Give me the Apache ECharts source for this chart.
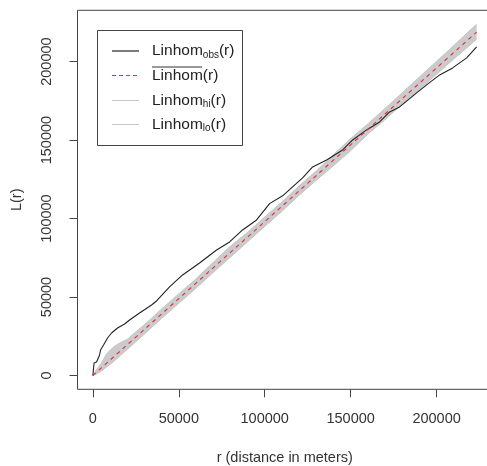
<!DOCTYPE html>
<html>
<head>
<meta charset="utf-8">
<script src="https://cdn.jsdelivr.net/npm/echarts@6/dist/echarts.min.js"></script>
<style>
html,body{margin:0;padding:0;background:#fff;}
#chart{width:487px;height:466px;}
</style>
</head>
<body>
<div id="chart"></div>
<script>
// ---- data ----
var xTicks = [0, 50000, 100000, 150000, 200000];
var yTicks = [0, 50000, 100000, 150000, 200000];

// observed Linhom(r)
var obsR = [0, 700, 2150, 3900, 4480, 6230, 8550, 10880, 14370, 18450, 21350, 27170, 34160, 37060, 44630, 52200, 62090, 71990, 79550, 87120, 95270, 102830, 110400, 122040, 127860, 136010, 145320, 151140, 159290, 166850, 172670, 178490, 188380, 194200, 201770, 209330, 217480, 223300];
var obsL = [0, 7970, 8600, 13070, 16250, 19440, 23900, 27080, 30270, 32820, 35370, 39830, 44930, 47480, 56410, 64060, 71710, 79990, 85090, 92740, 99110, 109500, 114500, 125880, 132890, 137360, 143730, 150100, 156480, 161570, 167950, 171140, 180060, 185160, 191530, 195990, 202370, 209380];

// simulation envelope and mean
var envR  = [0, 2000, 5000, 8000, 12000, 16000, 20000, 25000, 30000, 40000, 50000, 60000, 70000, 80000, 90000, 100000, 110000, 120000, 130000, 140000, 150000, 160000, 170000, 180000, 190000, 200000, 210000, 220000, 223300];
var theoL = [0, 1960, 4900, 7840, 11760, 15680, 19600, 24500, 29400, 39200, 49000, 58800, 68600, 78400, 88200, 98000, 107800, 117600, 127400, 137200, 147000, 156800, 166600, 176400, 186200, 196000, 205800, 215600, 218800];
var hiL   = [0, 3460, 8000, 13800, 18200, 21000, 23000, 27800, 32400, 42400, 52000, 61600, 72100, 82400, 91200, 101000, 110600, 120800, 130400, 140700, 151000, 160300, 170100, 180200, 190200, 200200, 210300, 220600, 223800];
var loL   = [0, 960, 2900, 5340, 8760, 12680, 16600, 21500, 26400, 36400, 46000, 55600, 65600, 75400, 85200, 95000, 104600, 114800, 124400, 133700, 143200, 153800, 163100, 172900, 182200, 192000, 201600, 211100, 214300];

function zip(a, b) { var o = []; for (var i = 0; i < a.length; i++) o.push([a[i], b[i]]); return o; }
function plain(v) { return String(v); }

var FONT = 'Liberation Sans, Arial, sans-serif';
var chart = echarts.init(document.getElementById('chart'));

var subRich = { a: { fontSize: 15.5, fontFamily: FONT, lineHeight: 18, fill: '#222' },
                s: { fontSize: 10, fontFamily: FONT, lineHeight: 11, verticalAlign: 'bottom', fill: '#222' } };

var option = {
  animation: false,
  backgroundColor: '#fff',
  grid: {
    show: true, left: 77.5, top: 10.3, width: 414.5, height: 379,
    containLabel: false, outerBoundsMode: 'none',
    borderColor: '#444', borderWidth: 1, backgroundColor: 'transparent'
  },
  xAxis: {
    type: 'value', min: -8932, max: 232232,
    name: 'r (distance in meters)', nameLocation: 'middle', nameGap: 61,
    nameTextStyle: { fontSize: 14.5, color: '#333', fontFamily: FONT },
    axisLine: { show: false, onZero: false },
    splitLine: { show: false },
    axisTick: { show: true, length: 8, inside: false, customValues: xTicks, lineStyle: { color: '#444' } },
    axisLabel: { customValues: xTicks, formatter: plain, margin: 22, fontSize: 14.5, color: '#333', fontFamily: FONT }
  },
  yAxis: {
    type: 'value', min: -8800, max: 232700,
    name: 'L(r)', nameLocation: 'middle', nameGap: 53,
    nameTextStyle: { fontSize: 14.5, color: '#333', fontFamily: FONT },
    axisLine: { show: false, onZero: false },
    splitLine: { show: false },
    axisTick: { show: true, length: 8, inside: false, customValues: yTicks, lineStyle: { color: '#444' } },
    axisLabel: { customValues: yTicks, formatter: plain, rotate: 90, margin: 23, fontSize: 14.5, color: '#333', fontFamily: FONT }
  },
  series: [
    {
      type: 'custom', silent: true, z: 1,
      data: [[0, 0]],
      renderItem: function (params, api) {
        var pts = [];
        for (var i = 0; i < envR.length; i++) pts.push(api.coord([envR[i], hiL[i]]));
        for (var j = envR.length - 1; j >= 0; j--) pts.push(api.coord([envR[j], loL[j]]));
        return { type: 'polygon', shape: { points: pts }, style: { fill: '#cbcbcb', stroke: null } };
      }
    },
    { name: 'hi', type: 'line', data: zip(envR, hiL), showSymbol: false, silent: true, z: 2,
      lineStyle: { color: '#c6c6c6', width: 1 } },
    { name: 'lo', type: 'line', data: zip(envR, loL), showSymbol: false, silent: true, z: 2,
      lineStyle: { color: '#c6c6c6', width: 1 } },
    { name: 'obs', type: 'line', data: zip(obsR, obsL), showSymbol: false, silent: true, z: 3,
      lineStyle: { color: '#222', width: 1.1 } },
    { name: 'theo', type: 'line', data: zip(envR, theoL), showSymbol: false, silent: true, z: 4,
      lineStyle: { color: '#e8283c', width: 1.1, type: [4, 4] } }
  ],
  graphic: [
    { type: 'rect', z: 100, shape: { x: 97.5, y: 30.5, width: 145, height: 115 },
      style: { fill: '#fff', stroke: '#444', lineWidth: 1 } },
    { type: 'line', z: 101, shape: { x1: 112, y1: 51, x2: 139, y2: 51 }, style: { stroke: '#333', lineWidth: 1.3 } },
    { type: 'line', z: 101, shape: { x1: 112, y1: 75.5, x2: 139, y2: 75.5 }, style: { stroke: '#e8283c', lineWidth: 1.2, lineDash: [4, 3] } },
    { type: 'line', z: 101, shape: { x1: 112, y1: 100.5, x2: 139, y2: 100.5 }, style: { stroke: '#c6c6c6', lineWidth: 1 } },
    { type: 'line', z: 101, shape: { x1: 112, y1: 124.5, x2: 139, y2: 124.5 }, style: { stroke: '#c6c6c6', lineWidth: 1 } },
    { type: 'line', z: 101, shape: { x1: 152, y1: 67, x2: 202, y2: 67 }, style: { stroke: '#333', lineWidth: 1 } },
    { type: 'text', z: 101, x: 152, y: 51, style: { text: '{a|Linhom}{s|obs}{a|(r)}', verticalAlign: 'middle', fill: '#222', rich: subRich } },
    { type: 'text', z: 101, x: 152, y: 75.5, style: { text: '{a|Linhom(r)}', verticalAlign: 'middle', fill: '#222', rich: subRich } },
    { type: 'text', z: 101, x: 152, y: 100.5, style: { text: '{a|Linhom}{s|hi}{a|(r)}', verticalAlign: 'middle', fill: '#222', rich: subRich } },
    { type: 'text', z: 101, x: 152, y: 124.5, style: { text: '{a|Linhom}{s|lo}{a|(r)}', verticalAlign: 'middle', fill: '#222', rich: subRich } }
  ]
};
chart.setOption(option);
</script>
</body>
</html>
